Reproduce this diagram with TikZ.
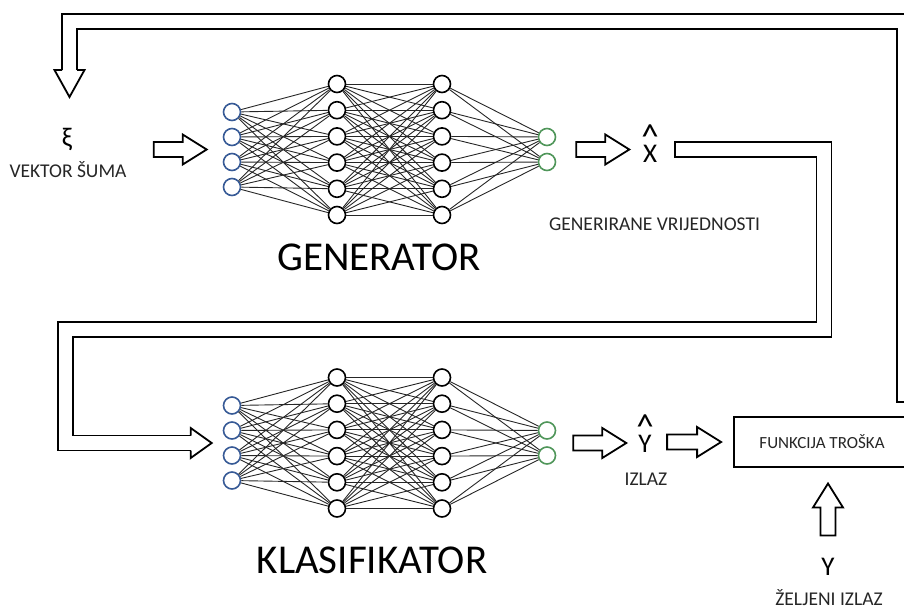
\documentclass[tikz,border=0pt]{standalone}
\usepackage{fontspec}
\usepackage{graphicx}
\setmainfont{Carlito}
\usetikzlibrary{calc}
\definecolor{inblue}{RGB}{55,90,150}
\definecolor{outgreen}{RGB}{80,150,90}
\tikzset{
	neuron/.style={circle, draw=black, line width=1.6pt, minimum size=17pt, inner sep=0pt},
	inneuron/.style={neuron, draw=inblue},
	outneuron/.style={neuron, draw=outgreen},
	synapse/.style={black!85, line width=0.9pt},
	symb/.style={inner sep=0pt, anchor=base, font=\fontsize{27}{30}\selectfont},
	caption/.style={inner sep=0pt, anchor=base, font=\fontsize{19.5}{22}\selectfont, text=black!85},
	title/.style={inner sep=0pt, anchor=base, font=\fontsize{41}{46}\selectfont},
	costbox/.style={rectangle, draw, line width=1.8pt, minimum width=176pt, minimum height=50pt, font=\fontsize{17}{20}\selectfont, text=black!85},
	wall/.style={draw, line width=1.8pt},
	channel/.style={wall, double, double distance=13.2pt},
	hollow/.style={wall, to path={($(\tikztotarget)!24pt!(\tikztostart)$) coordinate (hb)
		($(\tikztostart)!7.5pt!90:(\tikztotarget)$) -- ($(hb)!7.5pt!90:(\tikztotarget)$) -- ($(hb)!15pt!90:(\tikztotarget)$)
		-- (\tikztotarget) -- ($(hb)!15pt!-90:(\tikztotarget)$) -- ($(hb)!7.5pt!-90:(\tikztotarget)$)
		-- ($(\tikztostart)!7.5pt!-90:(\tikztotarget)$) -- cycle}},
	head/.style={wall, to path={($(\tikztostart)!7.5pt!90:(\tikztotarget)$) -- ($(\tikztostart)!15pt!90:(\tikztotarget)$)
		-- (\tikztotarget) -- ($(\tikztostart)!15pt!-90:(\tikztotarget)$) -- ($(\tikztostart)!7.5pt!-90:(\tikztotarget)$)}},
}
\newcommand{\hatted}[1]{\ooalign{#1\cr\hidewidth\raisebox{.5em}{\scalebox{1.3}{\textasciicircum}}\hidewidth\cr}}

\begin{document}
\begin{tikzpicture}[x=1pt, y=-1pt]
\useasboundingbox (0,0) rectangle (904,608);
\clip (0,0) rectangle (904,608);
% the two networks
\foreach \net/\cy in {G/149.5, K/443} {
	\foreach \i in {1,...,4} \node (\net-a\i) [inneuron] at (232, {\cy+(\i-2.5)*25}) {};
	\foreach \j in {1,...,6} {
		\node (\net-b\j) [neuron] at (337, {\cy+(\j-3.5)*26.2}) {};
		\node (\net-c\j) [neuron] at (442, {\cy+(\j-3.5)*26.2}) {};
	}
	\foreach \k in {1,2} \node (\net-d\k) [outneuron] at (547, {\cy+(\k-1.5)*25}) {};
	\foreach \i in {1,...,4} \foreach \j in {1,...,6} \draw [synapse] (\net-a\i) -- (\net-b\j);
	\foreach \i in {1,...,6} \foreach \j in {1,...,6} \draw [synapse] (\net-b\i) -- (\net-c\j);
	\foreach \i in {1,...,6} \foreach \j in {1,2} \draw [synapse] (\net-c\i) -- (\net-d\j);
	\coordinate (\net-in) at ($(\net-a2.west)!.5!(\net-a3.west)$);
	\coordinate (\net-out) at ($(\net-d1.east)!.5!(\net-d2.east)$);
}
\node (xi) [symb, anchor=center] at (67,139) {ξ};
\node (noise) [caption] at (68,177) {VEKTOR ŠUMA};
\node (gen) [title] at (379,270) {GENERATOR};
\node (xhat) [symb] at (650,162) {\hatted{X}};
\node (gval) [caption] at (654.5,230) {GENERIRANE VRIJEDNOSTI};
\node (klas) [title] at (372,573) {KLASIFIKATOR};
\node (yhat) [symb] at (645,452) {\hatted{Y}};
\node (izlaz) [caption] at (646,485) {IZLAZ};
\node (cost) [costbox] at (822,442) {FUNKCIJA TROŠKA};
\node (ydes) [symb] at (828,575) {Y};
\node (ylbl) [caption] at (829,605) {ŽELJENI IZLAZ};
% short arrows
\draw [hollow] ([xshift=-69pt]G-in) to ([xshift=-16pt]G-in);
\draw [hollow] ([xshift=20pt]G-out) to ([xshift=73pt]G-out);
\draw [hollow] ([xshift=17pt]K-out) to ([xshift=70pt]K-out);
\draw [hollow] ([xshift=-66pt]cost.west) to ([xshift=-12pt]cost.west);
\draw [hollow] ([yshift=22pt]ydes.north) to ([yshift=74pt]ydes.north);
% generated values into the classifier
\coordinate (xcap) at ($(xhat.east |- G-out)+(18,0)$);
\draw [channel] (xcap) -| (824,329.5) -| ($(K-in)+(-157.5,0)$) -- ($(K-in)+(-32,0)$);
\draw [head] ($(K-in)+(-32,0)$) to ($(K-in)+(-11,0)$);
\draw [wall] ($(xcap)+(0,-8.4)$) -- ($(xcap)+(0,8.4)$);
% feedback from the cost function
\coordinate (fb-tip) at (69.5,97);
\draw [wall] ($(fb-tip)+(-7.5,-27)$) |- (912,14);
\draw [wall] ($(fb-tip)+(7.5,-27)$) |- (897,29) |- (912,402);
\draw [head] ($(fb-tip)+(0,-27)$) to (fb-tip);
\end{tikzpicture}
\end{document}
